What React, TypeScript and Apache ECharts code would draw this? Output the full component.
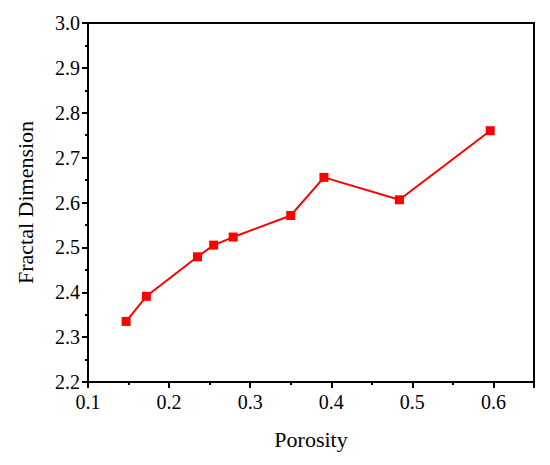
import React, { useEffect, useRef } from "react";
import * as echarts from "echarts";

const porosity = [0.147, 0.172, 0.235, 0.255, 0.279, 0.35, 0.391, 0.484, 0.596];
const fractalDim = [2.335, 2.391, 2.479, 2.505, 2.523, 2.571, 2.656, 2.606, 2.76];
const xTitle = "Porosity";
const yTitle = "Fractal Dimension";

const FONT = "Liberation Serif";

export default function App() {
  const ref = useRef<HTMLDivElement>(null);
  useEffect(() => {
    if (!ref.current) return;
    const chart = echarts.init(ref.current, undefined, { renderer: "svg" });
    const data = porosity.map((x, i) => [x, fractalDim[i]]);
    chart.setOption({
      animation: false,
      backgroundColor: "#ffffff",
      textStyle: { fontFamily: FONT },
      grid: {
        left: 88,
        top: 23,
        right: 16,
        bottom: 83,
        show: true,
        borderColor: "#000",
        borderWidth: 2,
        backgroundColor: "transparent",
      },
      xAxis: {
        type: "value",
        min: 0.1,
        max: 0.65,
        interval: 0.1,
        name: xTitle,
        nameLocation: "middle",
        nameGap: 46,
        nameTextStyle: { fontFamily: FONT, fontSize: 22, color: "#000" },
        axisLine: { show: true, lineStyle: { color: "#000", width: 2 } },
        axisTick: { show: true, inside: false, length: 6, lineStyle: { color: "#000", width: 2 } },
        minorTick: { show: true, splitNumber: 2, length: 3, lineStyle: { color: "#000", width: 2 } },
        splitLine: { show: false },
        axisLabel: {
          fontFamily: FONT,
          fontSize: 20,
          color: "#000",
          margin: 10,
          formatter: (v: number) => v.toFixed(1),
          showMaxLabel: false,
        },
      },
      yAxis: {
        type: "value",
        min: 2.2,
        max: 3.0,
        interval: 0.1,
        name: yTitle,
        nameLocation: "middle",
        nameGap: 52,
        nameTextStyle: { fontFamily: FONT, fontSize: 22, color: "#000" },
        axisLine: { show: true, lineStyle: { color: "#000", width: 2 } },
        axisTick: { show: true, inside: false, length: 6, lineStyle: { color: "#000", width: 2 } },
        minorTick: { show: true, splitNumber: 2, length: 3, lineStyle: { color: "#000", width: 2 } },
        splitLine: { show: false },
        axisLabel: {
          fontFamily: FONT,
          fontSize: 20,
          color: "#000",
          margin: 8,
          formatter: (v: number) => v.toFixed(1),
        },
      },
      series: [
        {
          type: "line",
          data,
          symbol: "rect",
          symbolSize: 9,
          itemStyle: { color: "#ff0000" },
          lineStyle: { color: "#ff0000", width: 2 },
        },
      ],
    });
    return () => chart.dispose();
  }, []);
  return (
    <div
      ref={ref}
      style={{ position: "absolute", left: 0, top: 0, width: 550, height: 465 }}
    />
  );
}
